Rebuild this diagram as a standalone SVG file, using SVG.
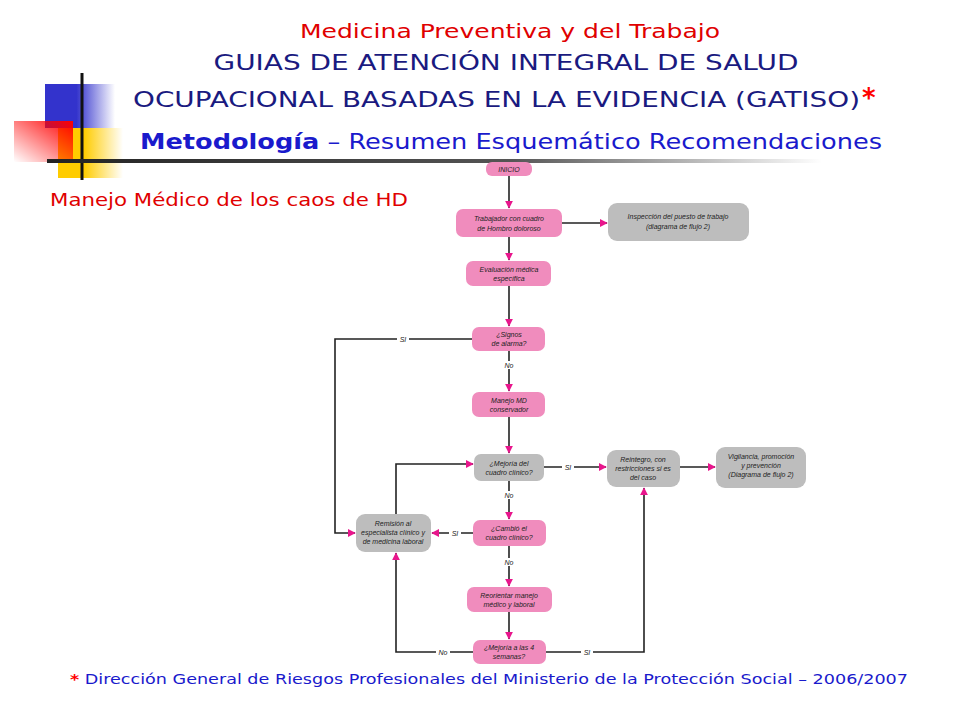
<svg xmlns="http://www.w3.org/2000/svg" width="960" height="720" viewBox="0 0 960 720">
<defs>
<linearGradient id="gb" x1="0" x2="1" y1="0" y2="0"><stop offset="0.45" stop-color="#3333cc"/><stop offset="1" stop-color="#3333cc" stop-opacity="0"/></linearGradient>
<linearGradient id="gy" x1="0" x2="1" y1="0" y2="0"><stop offset="0.4" stop-color="#ffcc00"/><stop offset="1" stop-color="#ffcc00" stop-opacity="0"/></linearGradient>
<linearGradient id="gr" x1="1" x2="0" y1="0" y2="1"><stop offset="0" stop-color="#ff0000"/><stop offset="1" stop-color="#ff0000" stop-opacity="0"/></linearGradient>
<linearGradient id="gl" x1="0" x2="1" y1="0" y2="0"><stop offset="0" stop-color="#222"/><stop offset="0.6" stop-color="#555"/><stop offset="1" stop-color="#fff"/></linearGradient>
<marker id="ar" viewBox="0 0 10 10" refX="9" refY="5" markerWidth="5" markerHeight="5" orient="auto"><path d="M0,0L10,5L0,10z" fill="#e8168c"/></marker>
<style>
.p{fill:#f08cbd}.g{fill:#bdbdbd}
.t{font-family:"Liberation Sans",Arial,sans-serif;font-style:italic;font-size:7px;fill:#222;text-anchor:middle}
.c{fill:none;stroke:#222;stroke-width:1.6}
.l{font-family:"Liberation Sans",Arial,sans-serif;font-style:italic;font-size:7px;fill:#222;text-anchor:middle}
.h{font-family:"DejaVu Sans",Verdana,sans-serif}
</style>
</defs>
<rect width="960" height="720" fill="#fff"/>
<g id="decor">
<rect x="45" y="84" width="70" height="44" fill="url(#gb)"/>
<rect x="58" y="128" width="65" height="50" fill="url(#gy)"/>
<rect x="14" y="121" width="59" height="41" fill="url(#gr)"/>
<line x1="82" y1="73" x2="82" y2="180" stroke="#111" stroke-width="3"/>
<rect x="47" y="159" width="775" height="4" fill="url(#gl)"/>
</g>
<g id="titles" class="h">
<text x="510" y="38" font-size="20" fill="#e00000" text-anchor="middle" textLength="420" lengthAdjust="spacingAndGlyphs">Medicina Preventiva y del Trabajo</text>
<text x="506" y="70" font-size="21" fill="#1a1a80" text-anchor="middle" textLength="585" lengthAdjust="spacingAndGlyphs">GUIAS DE ATENCIÓN INTEGRAL DE SALUD</text>
<text x="133" y="107" font-size="21" fill="#1a1a80" textLength="727" lengthAdjust="spacingAndGlyphs">OCUPACIONAL BASADAS EN LA EVIDENCIA (GATISO)</text>
<text x="862" y="107" font-size="26" fill="#ff0000" font-weight="bold">*</text>
<text x="140" y="149" font-size="22" fill="#1a1acc" textLength="742" lengthAdjust="spacingAndGlyphs"><tspan font-weight="bold">Metodología</tspan> – Resumen Esquemático Recomendaciones</text>
<text x="50" y="206" font-size="18" fill="#e00000" textLength="358" lengthAdjust="spacingAndGlyphs">Manejo Médico de los caos de HD</text>
<text x="70" y="684" font-size="14" fill="#1a1acc" textLength="838" lengthAdjust="spacingAndGlyphs"><tspan fill="#ff0000" font-weight="bold">*</tspan> Dirección General de Riesgos Profesionales del Ministerio de la Protección Social – 2006/2007</text>
</g>
<g id="connectors">
<path class="c" d="M509,176V208" marker-end="url(#ar)"/>
<path class="c" d="M562,223H607" marker-end="url(#ar)"/>
<path class="c" d="M509,237V260" marker-end="url(#ar)"/>
<path class="c" d="M509,286V326" marker-end="url(#ar)"/>
<path class="c" d="M509,351V391" marker-end="url(#ar)"/>
<path class="c" d="M509,417V453" marker-end="url(#ar)"/>
<path class="c" d="M509,481V519" marker-end="url(#ar)"/>
<path class="c" d="M509,546V586" marker-end="url(#ar)"/>
<path class="c" d="M509,612V639" marker-end="url(#ar)"/>
<path class="c" d="M472,339H335V533H355" marker-end="url(#ar)"/>
<path class="c" d="M396,514V464H473" marker-end="url(#ar)"/>
<path class="c" d="M473,533H432" marker-end="url(#ar)"/>
<path class="c" d="M473,652H396V553" marker-end="url(#ar)"/>
<path class="c" d="M546,652H644V488" marker-end="url(#ar)"/>
<path class="c" d="M544,467H606" marker-end="url(#ar)"/>
<path class="c" d="M680,467H715" marker-end="url(#ar)"/>
<g font-size="7">
<rect x="397" y="335" width="12" height="8" fill="#fff"/><text class="l" x="403" y="342">SI</text>
<rect x="503" y="361" width="12" height="8" fill="#fff"/><text class="l" x="509" y="368">No</text>
<rect x="562" y="463" width="12" height="8" fill="#fff"/><text class="l" x="568" y="470">SI</text>
<rect x="503" y="491" width="12" height="8" fill="#fff"/><text class="l" x="509" y="498">No</text>
<rect x="449" y="529" width="12" height="8" fill="#fff"/><text class="l" x="455" y="536">SI</text>
<rect x="503" y="558" width="12" height="8" fill="#fff"/><text class="l" x="509" y="565">No</text>
<rect x="436" y="648" width="14" height="8" fill="#fff"/><text class="l" x="443" y="655">No</text>
<rect x="581" y="648" width="12" height="8" fill="#fff"/><text class="l" x="587" y="655">SI</text>
</g>
</g>
<g id="inicio"><rect class="p" x="486" y="162" width="46" height="14" rx="6"/><text class="t" x="509" y="172" font-size="6">INICIO</text></g>
<g id="trabajador"><rect class="p" x="456" y="209" width="106" height="28" rx="7"/><text class="t" x="509" y="221">Trabajador con cuadro</text><text class="t" x="509" y="231">de Hombro doloroso</text></g>
<g id="inspeccion"><rect class="g" x="608" y="203" width="141" height="38" rx="9"/><text class="t" x="678" y="219">Inspección del puesto de trabajo</text><text class="t" x="678" y="229">(diagrama de flujo 2)</text></g>
<g id="evaluacion"><rect class="p" x="466" y="261" width="85" height="25" rx="7"/><text class="t" x="509" y="272">Evaluación médica</text><text class="t" x="509" y="281">específica</text></g>
<g id="signos"><rect class="p" x="472" y="327" width="73" height="24" rx="7"/><text class="t" x="509" y="337">¿Signos</text><text class="t" x="509" y="346">de alarma?</text></g>
<g id="manejo"><rect class="p" x="472" y="392" width="73" height="25" rx="7"/><text class="t" x="509" y="403">Manejo MD</text><text class="t" x="509" y="412">conservador</text></g>
<g id="mejoria"><rect class="g" x="474" y="454" width="70" height="27" rx="7"/><text class="t" x="509" y="466">¿Mejoría del</text><text class="t" x="509" y="475">cuadro clínico?</text></g>
<g id="reintegro"><rect class="g" x="607" y="450" width="73" height="37" rx="9"/><text class="t" x="643" y="462">Reintegro, con</text><text class="t" x="643" y="471">restricciones si es</text><text class="t" x="643" y="480">del caso</text></g>
<g id="vigilancia"><rect class="g" x="716" y="447" width="90" height="41" rx="9"/><text class="t" x="761" y="459">Vigilancia, promoción</text><text class="t" x="761" y="468">y prevención</text><text class="t" x="761" y="477">(Diagrama de flujo 2)</text></g>
<g id="remision"><rect class="g" x="356" y="514" width="75" height="38" rx="9"/><text class="t" x="393" y="526">Remisión al</text><text class="t" x="393" y="535">especialista clínico y</text><text class="t" x="393" y="544">de medicina laboral</text></g>
<g id="cambio"><rect class="p" x="473" y="520" width="73" height="26" rx="7"/><text class="t" x="509" y="531">¿Cambió el</text><text class="t" x="509" y="540">cuadro clínico?</text></g>
<g id="reorientar"><rect class="p" x="467" y="587" width="85" height="25" rx="7"/><text class="t" x="509" y="598">Reorientar manejo</text><text class="t" x="509" y="607">médico y laboral</text></g>
<g id="mejoria4"><rect class="p" x="473" y="640" width="73" height="24" rx="7"/><text class="t" x="509" y="650">¿Mejoría a las 4</text><text class="t" x="509" y="659">semanas?</text></g>
</svg>
